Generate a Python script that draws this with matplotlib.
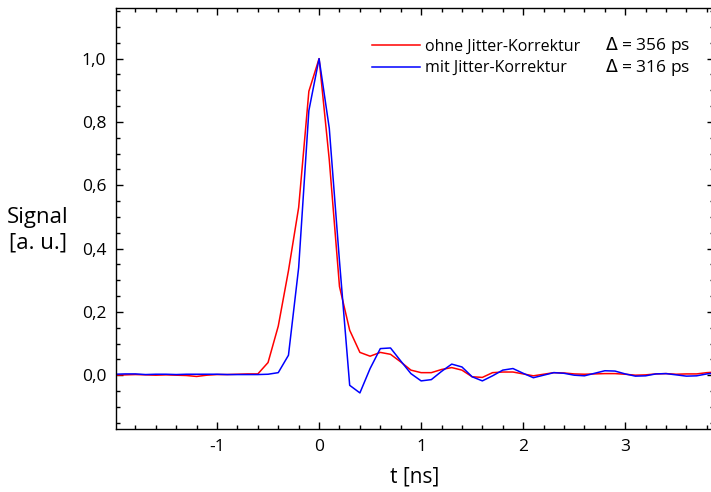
import matplotlib
matplotlib.use('Agg')
import matplotlib.pyplot as plt
from matplotlib.ticker import MultipleLocator, FuncFormatter
from matplotlib.lines import Line2D

plt.rcParams['font.family'] = ['Open Sans', 'DejaVu Sans']

# time axis [ns]
t = [-2.0, -1.9, -1.8, -1.7, -1.6, -1.5, -1.4, -1.3, -1.2, -1.1,
     -1.0, -0.9, -0.8, -0.7, -0.6, -0.5, -0.4, -0.3, -0.2, -0.1,
     0.0, 0.1, 0.2, 0.3, 0.4, 0.5, 0.6, 0.7, 0.8, 0.9,
     1.0, 1.1, 1.2, 1.3, 1.4, 1.5, 1.6, 1.7, 1.8, 1.9,
     2.0, 2.1, 2.2, 2.3, 2.4, 2.5, 2.6, 2.7, 2.8, 2.9,
     3.0, 3.1, 3.2, 3.3, 3.4, 3.5, 3.6, 3.7, 3.8, 3.9]

# ohne Jitter-Korrektur
ohne = [0.000, 0.001, 0.002, 0.001, 0.000, 0.001, 0.000, -0.001, -0.004, 0.000,
        0.002, 0.002, 0.003, 0.004, 0.004, 0.040, 0.155, 0.330, 0.530, 0.897,
        1.000, 0.680, 0.280, 0.142, 0.072, 0.060, 0.072, 0.066, 0.042, 0.016,
        0.008, 0.008, 0.018, 0.024, 0.016, -0.005, -0.007, 0.008, 0.010, 0.010,
        0.004, -0.002, 0.003, 0.008, 0.007, 0.004, 0.003, 0.004, 0.005, 0.005,
        0.003, 0.000, 0.001, 0.004, 0.005, 0.003, 0.004, 0.004, 0.008, 0.010]

# mit Jitter-Korrektur
mit = [0.003, 0.004, 0.004, 0.002, 0.003, 0.003, 0.002, 0.003, 0.003, 0.003,
       0.003, 0.002, 0.002, 0.002, 0.002, 0.003, 0.008, 0.063, 0.340, 0.836,
       1.000, 0.780, 0.360, -0.032, -0.056, 0.021, 0.084, 0.086, 0.045, 0.005,
       -0.018, -0.014, 0.012, 0.035, 0.026, -0.005, -0.018, -0.002, 0.016, 0.021,
       0.006, -0.008, 0.000, 0.008, 0.006, 0.000, -0.002, 0.006, 0.014, 0.013,
       0.004, -0.003, -0.002, 0.004, 0.005, 0.001, -0.003, -0.002, 0.004, 0.008]

labels = ['ohne Jitter-Korrektur', 'mit Jitter-Korrektur']
deltas = ['$\\Delta$ = 356 ps', '$\\Delta$ = 316 ps']
colors = ['#ff0000', '#0000ff']

W, H = 711, 492
fig = plt.figure(figsize=(W / 100, H / 100), dpi=100)
ax = fig.add_axes([116 / W, 1 - 429 / H, 598 / W, 421 / H])

ax.plot(t, ohne, color=colors[0], lw=1.1)
ax.plot(t, mit, color=colors[1], lw=1.1)

ax.set_xlim(-1.99, 3.87)
ax.set_ylim(-0.17, 1.16)

ax.xaxis.set_major_locator(MultipleLocator(1))
ax.xaxis.set_minor_locator(MultipleLocator(0.2))
ax.yaxis.set_major_locator(MultipleLocator(0.2))
ax.yaxis.set_minor_locator(MultipleLocator(0.05))
ax.xaxis.set_major_formatter(FuncFormatter(lambda v, p: '%d' % round(v)))
ax.yaxis.set_major_formatter(FuncFormatter(lambda v, p: ('%.1f' % v).replace('.', ',').replace('-0,0', '0,0')))

ax.tick_params(which='both', direction='in', top=True, right=True, labelsize=12.5, width=1.0)
ax.tick_params(which='major', length=5)
ax.tick_params(which='minor', length=3)
ax.tick_params(axis='x', pad=7)
ax.tick_params(axis='y', pad=7)
for s in ax.spines.values():
    s.set_linewidth(1.0)

fig.text(415 / W, 1 - 477 / H, 't [ns]', ha='center', va='center', fontsize=15)
fig.text(38 / W, 1 - 230 / H, 'Signal\n[a. u.]', ha='center', va='center', fontsize=16,
         multialignment='center', linespacing=1.3)

handles = [Line2D([], [], color=c, lw=1.1) for c in colors]
ax.legend(handles, labels, loc='upper left', bbox_to_anchor=(364 / W, 1 - 31 / H),
          bbox_transform=fig.transFigure, frameon=False, fontsize=11.5,
          handlelength=3.0, handletextpad=0.3, labelspacing=0.32, borderpad=0)
for i, d in enumerate(deltas):
    fig.text(605 / W, 1 - (45 + 23 * i) / H, d, ha='left', va='center', fontsize=12.5)

fig.savefig('out.png', dpi=100)
